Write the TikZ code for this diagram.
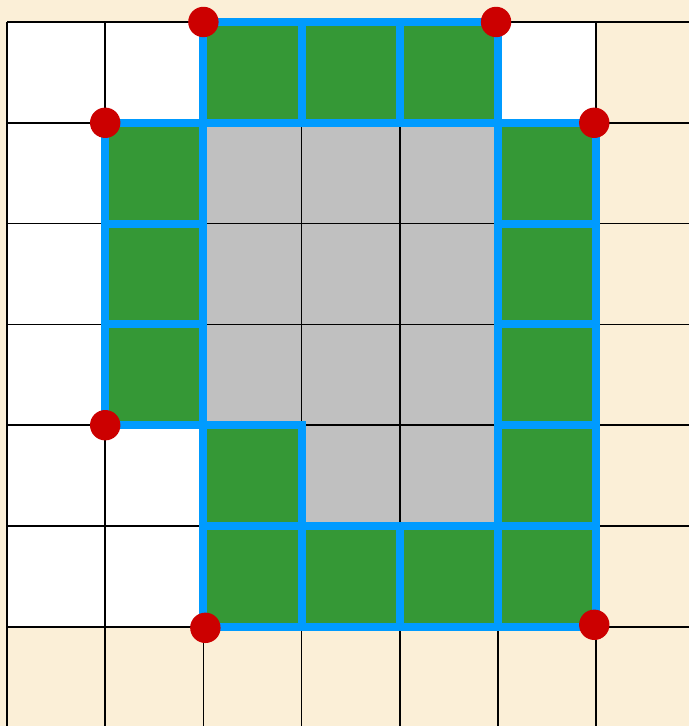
\documentclass[tikz,border=0pt]{standalone}
\usepackage{tikz}
\usetikzlibrary{calc}

\definecolor{parchment}{HTML}{FBEFD7}
\definecolor{cellgreen}{HTML}{359836}
\definecolor{cellgray}{HTML}{C0C0C0}
\definecolor{edgeblue}{HTML}{009BFF}
\definecolor{dotred}{HTML}{CC0000}

\tikzset{
    gridline/.style={black, line width=1.2pt},
    greencell/.style={fill=cellgreen, draw=edgeblue, line width=5.7pt},
    corner/.style={fill=dotred}
}

\begin{document}
\begin{tikzpicture}[x=2.455cm,y=-2.52cm]
            % Define the page boundary (in cell units)
            \def\l{-0.0713}  % left edge
            \def\t{-0.218}   % top edge
            \def\r{6.945}    % right edge
            \def\b{6.984}    % bottom edge
            \def\rad{0.38cm} % radius of the corner dots

            % Background of the page
            \fill[parchment] (\l,\t) rectangle (\r,\b);
            \useasboundingbox (\l,\t) rectangle (\r,\b);

            % Corners of the green ring
            \coordinate (C20) at (2,0);
            \coordinate (C50) at (5,0);
            \coordinate (C11) at (1,1);
            \coordinate (C61) at (6,1);
            \coordinate (C14) at (1,4);
            \coordinate (C26) at (2,6);
            \coordinate (C66) at (6,6);

            % White board and gray inside
            \fill[white] (0,0) rectangle (6,6);
            \fill[cellgray] (2,1) rectangle (5,4);
            \fill[cellgray] (3,4) rectangle (5,5);

            % Draw the grid lines
            \foreach \i in {0,...,6} {
                \draw[gridline] (\i,0) -- (\i,\b);
                \draw[gridline] (0,\i) -- (\r,\i);
            }

            % Draw the green cells
            \draw[greencell] (2,0) rectangle (3,1);
            \draw[greencell] (3,0) rectangle (4,1);
            \draw[greencell] (4,0) rectangle (5,1);

            \draw[greencell] (1,1) rectangle (2,2);
            \draw[greencell] (1,2) rectangle (2,3);
            \draw[greencell] (1,3) rectangle (2,4);

            \draw[greencell] (5,1) rectangle (6,2);
            \draw[greencell] (5,2) rectangle (6,3);
            \draw[greencell] (5,3) rectangle (6,4);
            \draw[greencell] (5,4) rectangle (6,5);

            \draw[greencell] (2,4) rectangle (3,5);

            \draw[greencell] (2,5) rectangle (3,6);
            \draw[greencell] (3,5) rectangle (4,6);
            \draw[greencell] (4,5) rectangle (5,6);
            \draw[greencell] (5,5) rectangle (6,6);

            % Draw the corner dots
            \fill[corner] (C20) circle (\rad);
            \fill[corner] ($(C50)+(-0.02,0)$) circle (\rad);
            \fill[corner] (C11) circle (\rad);
            \fill[corner] ($(C61)+(-0.02,0)$) circle (\rad);
            \fill[corner] (C14) circle (\rad);
            \fill[corner] ($(C26)+(0.02,0.01)$) circle (\rad);
            \fill[corner] ($(C66)+(-0.02,-0.02)$) circle (\rad);

\end{tikzpicture}
\end{document}
